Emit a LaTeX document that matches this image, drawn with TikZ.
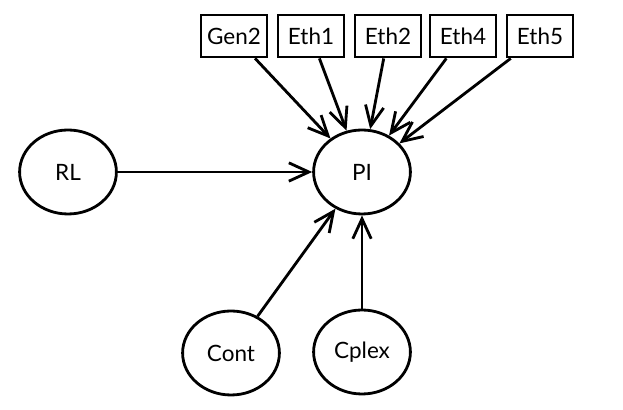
\documentclass[tikz,border=0pt]{standalone}
\usepackage{fontspec}
\setmainfont{Lato}
\usepackage{tikz}
\usetikzlibrary{arrows.meta, shapes.geometric}

\begin{document}
\begin{tikzpicture}[
    line width=2pt,
    var/.style={draw, rectangle, minimum width=1.65cm, minimum height=1.05cm, inner sep=0pt, font=\fontsize{16}{19}\selectfont},
    lat/.style={draw, ellipse, minimum width=2.42cm, minimum height=2.1cm, inner sep=0pt, font=\fontsize{16}{19}\selectfont},
    arr/.style={-{Straight Barb[length=5mm,width=4.6mm,line width=2pt]}}
]
    \useasboundingbox (0, 0) rectangle (15.575, 10.25);

    \node[var] (gen2) at (5.85, 9.35) {Gen2};
    \node[var] (eth1) at (7.775, 9.35) {Eth1};
    \node[var] (eth2) at (9.7, 9.35) {Eth2};
    \node[var] (eth4) at (11.575, 9.35) {Eth4};
    \node[var] (eth5) at (13.5, 9.35) {Eth5};

    \node[lat] (pi) at (9.05, 5.95) {PI};
    \node[lat] (rl) at (1.7, 5.95) {RL};
    \node[lat] (cont) at (5.775, 1.425) {Cont};
    \node[lat] (cplex) at (9.05, 1.45) {Cplex};

    \foreach \v in {gen2, eth1, eth2, eth4, eth5}
        \draw[arr] (\v) -- (pi);

    \draw[arr] (rl) -- (pi);
    \draw[arr] (cont) -- (pi);
    \draw[arr] (cplex) -- (pi);
\end{tikzpicture}
\end{document}
